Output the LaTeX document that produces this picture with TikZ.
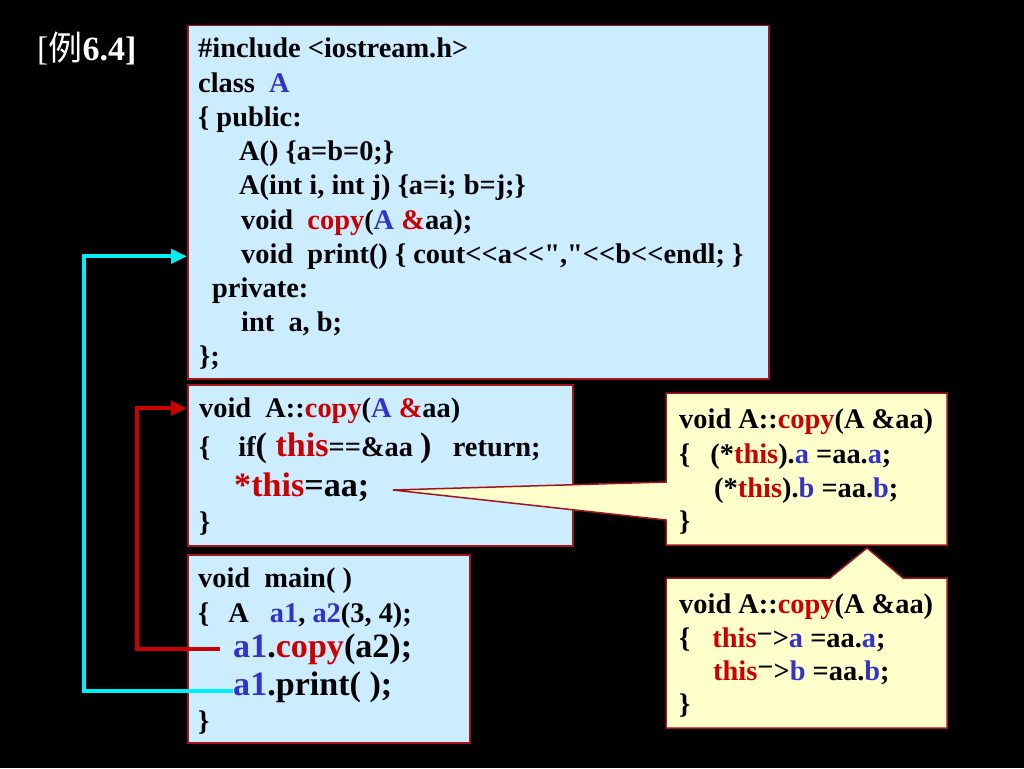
\documentclass[tikz,border=0pt]{standalone}
\usepackage{fontspec}
\setmainfont{Liberation Serif}[Ligatures=TeXOff]
\newfontfamily\cjk{Noto Sans CJK SC}
\usetikzlibrary{arrows.meta}
\definecolor{mblue}{RGB}{204,236,255}
\definecolor{mcream}{RGB}{255,255,204}
\definecolor{mframe}{RGB}{160,20,30}
\definecolor{mred}{RGB}{204,0,0}
\definecolor{mink}{RGB}{51,51,204}
\definecolor{mcyan}{RGB}{0,238,248}
\newcommand{\rd}[1]{\textcolor{mred}{#1}}
\newcommand{\bl}[1]{\textcolor{mink}{#1}}
\newcommand{\Lsz}{\fontsize{34.1}{41}\selectfont}
\tikzset{codebox/.style = {draw=mframe, line width=1.5pt, fill=mblue, anchor=north west, inner sep=0}}
\tikzset{callout/.style = {draw=mframe, line width=1.5pt, fill=mcream}}
\tikzset{codeline/.style = {anchor=base west, inner sep=0, font=\fontsize{28.4}{34}\selectfont\bfseries}}
\tikzset{link/.style = {line width=4pt, -{Triangle[length=16pt,width=14pt]}}}

\begin{document}
\begin{tikzpicture}[x=1pt, y=-1pt]
      \useasboundingbox (0,0) rectangle (1024,768);
      \fill [black] (0,0) rectangle (1024,768);
      \node [anchor=base west, inner sep=0, text=white, font=\fontsize{34}{40}\selectfont] (title) at (37,60) {[{\cjk 例}\textbf{6.4]}};

      \node [codebox, minimum width=581pt, minimum height=353pt] (clsbox) at (187,25) {};
      \node [codeline] (cls1) at (198,58) {\#include <iostream.h>};
      \node [codeline] (cls2) at (198,92.2) {class~~\bl{A}};
      \node [codeline] (cls3) at (198,126.4) {\{ public:};
      \node [codeline] (cls4) at (239,160.6) {A() \{a=b=0;\}};
      \node [codeline] (cls5) at (239,194.8) {A(int i, int j) \{a=i; b=j;\}};
      \node [codeline] (cls6) at (241,229) {void~~\rd{copy}(\bl{A} \rd{\&}aa);};
      \node [codeline] (cls7) at (241,263.2) {void~~print() \{ cout<<a<<","<<b<<endl; \}};
      \node [codeline] (cls8) at (212,297.4) {private:};
      \node [codeline] (cls9) at (241,331.6) {int~~a, b;};
      \node [codeline] (cls10) at (199,365.8) {\};};

      \node [codebox, minimum width=385pt, minimum height=161pt] (cpybox) at (187,384) {};
      \node [codeline] (cpy1) at (199,417) {void~~A::\rd{copy}(\bl{A} \rd{\&}aa)};
      \node [codeline] (cpy2) at (199,456) {\{\hspace{28pt}if{\Lsz( \rd{this}}==\&aa {\Lsz)}~~~return;};
      \node [codeline] (cpy3) at (234,496) {\Lsz\rd{*this}=aa;};
      \node [codeline] (cpy4) at (199,531) {\}};

      \node [codebox, minimum width=282pt, minimum height=188pt] (mainbox) at (187,554) {};
      \node [codeline] (mn1) at (198,587) {void~~main(~)};
      \node [codeline] (mn2) at (198,622) {\{\hspace{19pt}A\hspace{21pt}\bl{a1}, \bl{a2}(3, 4);};
      \node [codeline] (mn3) at (233,657) {\Lsz\bl{a1}.\rd{copy}(a2);};
      \node [codeline] (mn4) at (233,695) {\Lsz\bl{a1}.print(~);};
      \node [codeline] (mn5) at (198,730) {\}};

      \draw [callout] (666,393) -- (947,393) -- (947,545) -- (666,545) -- (666,520) -- (393,490) -- (666,482) -- cycle;
      \node [codeline] (ca1) at (679,428) {void A::\rd{copy}(A \&aa)};
      \node [codeline] (ca2) at (679,463) {\{\hspace{20pt}(*\rd{this}).\bl{a} =aa.\bl{a};};
      \node [codeline] (ca3) at (714,497) {(*\rd{this}).\bl{b} =aa.\bl{b};};
      \node [codeline] (ca4) at (679,530) {\}};

      \draw [callout] (666,578) -- (830,578) -- (867,548) -- (903,578) -- (947,578) -- (947,728) -- (666,728) -- cycle;
      \node [codeline] (cb1) at (679,613) {void A::\rd{copy}(A \&aa)};
      \node [codeline] (cb2) at (679,647) {\{\hspace{22pt}\rd{this}\raisebox{4pt}{−}>\bl{a} =aa.\bl{a};};
      \node [codeline] (cb3) at (713,680) {\rd{this}\raisebox{4pt}{−}>\bl{b} =aa.\bl{b};};
      \node [codeline] (cb4) at (679,713) {\}};

      \draw [link, mcyan] ([yshift=-4pt]mn4.west) -- ++(-149,0) |- (clsbox.west |- cls7);
      \draw [link, mred] ([xshift=-13pt]mn3.west) -- ++(-83,0) |- ([yshift=2pt]cpybox.west |- cpy1);
\end{tikzpicture}
\end{document}
